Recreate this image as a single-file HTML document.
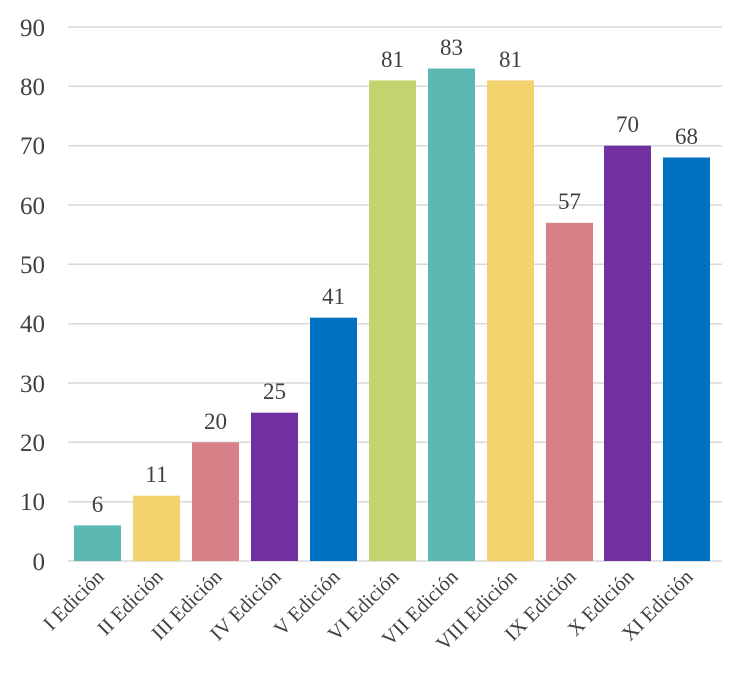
<!DOCTYPE html>
<html><head><style>body{margin:0;background:#fff}svg{display:block}</style></head><body>
<svg width="739" height="684" xmlns="http://www.w3.org/2000/svg" font-family="Liberation Serif, serif" fill="#404040">
<g stroke="#d9d9d9" stroke-width="1.5">
<line x1="68" x2="722" y1="27" y2="27"/><line x1="68" x2="722" y1="86.3" y2="86.3"/><line x1="68" x2="722" y1="145.7" y2="145.7"/><line x1="68" x2="722" y1="205" y2="205"/><line x1="68" x2="722" y1="264.3" y2="264.3"/><line x1="68" x2="722" y1="323.7" y2="323.7"/><line x1="68" x2="722" y1="383" y2="383"/><line x1="68" x2="722" y1="442.3" y2="442.3"/><line x1="68" x2="722" y1="501.7" y2="501.7"/><line x1="68" x2="722" y1="561" y2="561"/>
</g>
<g font-size="25" text-anchor="end">
<text x="45" y="36">90</text><text x="45" y="95">80</text><text x="45" y="154">70</text><text x="45" y="214">60</text><text x="45" y="273">50</text><text x="45" y="332">40</text><text x="45" y="392">30</text><text x="45" y="451">20</text><text x="45" y="510">10</text><text x="45" y="570">0</text>
</g>
<g>
<rect x="74" y="525.4" width="47" height="35.6" fill="#5bb8b3"/>
<rect x="133" y="495.7" width="47" height="65.3" fill="#f3d36e"/>
<rect x="192" y="442.3" width="47" height="118.7" fill="#d78087"/>
<rect x="251" y="412.7" width="47" height="148.3" fill="#7030a0"/>
<rect x="310" y="317.7" width="47" height="243.3" fill="#0070c0"/>
<rect x="369" y="80.4" width="47" height="480.6" fill="#c4d370"/>
<rect x="428" y="68.5" width="47" height="492.5" fill="#5bb8b3"/>
<rect x="487" y="80.4" width="47" height="480.6" fill="#f3d36e"/>
<rect x="546" y="222.8" width="47" height="338.2" fill="#d78087"/>
<rect x="604" y="145.7" width="47" height="415.3" fill="#7030a0"/>
<rect x="663" y="157.5" width="47" height="403.5" fill="#0070c0"/>
</g>
<g font-size="23" text-anchor="middle">
<text x="97.5" y="512">6</text><text x="156.5" y="482">11</text><text x="215.5" y="429">20</text><text x="274.5" y="399">25</text><text x="333.5" y="304">41</text><text x="392.5" y="67">81</text><text x="451.5" y="55">83</text><text x="510.5" y="67">81</text><text x="569.5" y="209">57</text><text x="627.5" y="132">70</text><text x="686.5" y="144">68</text>
</g>
<g font-size="20.5" text-anchor="end">
<text transform="translate(105,578) rotate(-45)">I Edición</text>
<text transform="translate(164,578) rotate(-45)">II Edición</text>
<text transform="translate(223,578) rotate(-45)">III Edición</text>
<text transform="translate(282,578) rotate(-45)">IV Edición</text>
<text transform="translate(341,578) rotate(-45)">V Edición</text>
<text transform="translate(400,578) rotate(-45)">VI Edición</text>
<text transform="translate(459,578) rotate(-45)">VII Edición</text>
<text transform="translate(518,578) rotate(-45)">VIII Edición</text>
<text transform="translate(577,578) rotate(-45)">IX Edición</text>
<text transform="translate(635,578) rotate(-45)">X Edición</text>
<text transform="translate(694,578) rotate(-45)">XI Edición</text>
</g>
</svg>
</body></html>
